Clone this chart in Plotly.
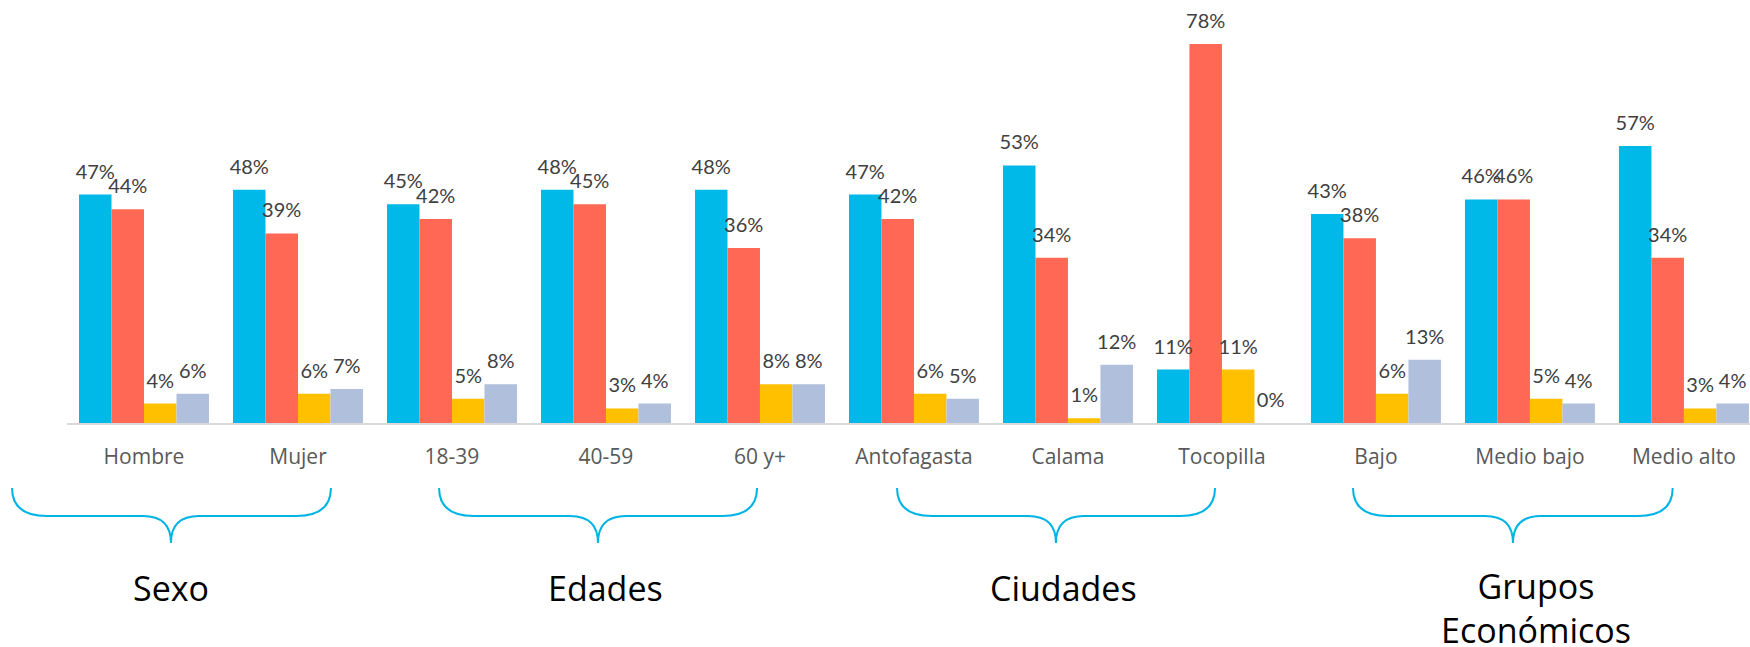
import plotly.graph_objects as go

categories = ["Hombre", "Mujer", "18-39", "40-59", "60 y+", "Antofagasta",
              "Calama", "Tocopilla", "Bajo", "Medio bajo", "Medio alto"]
serie_1 = [47, 48, 45, 48, 48, 47, 53, 11, 43, 46, 57]
serie_2 = [44, 39, 42, 45, 36, 42, 34, 78, 38, 46, 34]
serie_3 = [4, 6, 5, 3, 8, 6, 1, 11, 6, 5, 3]
serie_4 = [6, 7, 8, 4, 8, 5, 12, 0, 13, 4, 4]
series_names = ["Serie 1", "Serie 2", "Serie 3", "Serie 4"]
colors = ["#00B9E8", "#FF6855", "#FFC000", "#B0BFDB"]

group_labels = ["Sexo", "Edades", "Ciudades", "Grupos<br>Económicos"]
# brace spans expressed in category-index units (left, center, right)
group_spans = [(-0.857, 0.175, 1.214), (1.916, 2.948, 3.981),
               (4.890, 5.922, 6.955), (7.851, 8.890, 9.927)]
group_label_x = [0.175, 3.0, 5.97, 9.04]

W, H = 1750, 647
ML, MR, MT, MB = 67, 0, 0, 224
XMIN, XMAX = -0.5, 10.429
YMAX = 87.05
plot_w = W - ML - MR
plot_h = H - MT - MB

fig = go.Figure()
all_series = [serie_1, serie_2, serie_3, serie_4]
for name, vals, col in zip(series_names, all_series, colors):
    fig.add_trace(go.Bar(
        x=categories, y=vals, name=name,
        marker=dict(color=col, line=dict(width=0)),
        hoverinfo="x+y", showlegend=False,
    ))
for name, vals in zip(series_names, all_series):
    fig.add_trace(go.Scatter(
        x=categories, y=vals, name=name + " etiqueta",
        mode="markers+text",
        marker=dict(size=16, color="rgba(0,0,0,0)"),
        text=[f"{v}%" for v in vals],
        textposition="top center",
        textfont=dict(family="Lato, Open Sans, sans-serif", size=20, color="#404040"),
        cliponaxis=False, hoverinfo="skip", showlegend=False,
    ))


def xpaper(xd):
    return (xd - XMIN) / (XMAX - XMIN)


def ypaper(py):
    return (MT + plot_h - py) / plot_h


shapes = []
for (l, c, r) in group_spans:
    x0 = xpaper(l)
    xc = xpaper(c)
    x1 = xpaper(r)
    d1 = 35 / plot_w
    d2 = 28 / plot_w
    yt = ypaper(488)
    ym = ypaper(516)
    yb = ypaper(543)
    path = (f"M {x0},{yt} Q {x0},{ym} {x0 + d1},{ym} L {xc - d2},{ym} "
            f"Q {xc},{ym} {xc},{yb} Q {xc},{ym} {xc + d2},{ym} "
            f"L {x1 - d1},{ym} Q {x1},{ym} {x1},{yt}")
    shapes.append(dict(type="path", path=path, xref="paper", yref="paper",
                       line=dict(color="#00B4E6", width=2)))

annotations = []
for lab, xl in zip(group_labels, group_label_x):
    two = "<br>" in lab
    annotations.append(dict(
        x=xl, xref="x", y=ypaper(608 if two else 588), yref="paper",
        text=lab, showarrow=False, xanchor="center", yanchor="middle",
        font=dict(family="Open Sans, sans-serif", size=34, color="#000000"),
    ))

fig.update_layout(
    width=W, height=H,
    margin=dict(l=ML, r=MR, t=MT, b=MB),
    paper_bgcolor="white", plot_bgcolor="white",
    barmode="group", bargap=0.156, bargroupgap=0,
    scattermode="group", scattergap=0.156,
    shapes=shapes, annotations=annotations,
    xaxis=dict(
        range=[XMIN, XMAX], showgrid=False, zeroline=False,
        showline=True, linecolor="#D9D9D9", linewidth=2,
        ticks="", ticklabelstandoff=14,
        tickfont=dict(family="Open Sans, sans-serif", size=21, color="#595959"),
    ),
    yaxis=dict(range=[0, YMAX], visible=False),
)

fig.write_html("out.html", config={"displayModeBar": False},
               post_script="document.body.style.margin='0';")
